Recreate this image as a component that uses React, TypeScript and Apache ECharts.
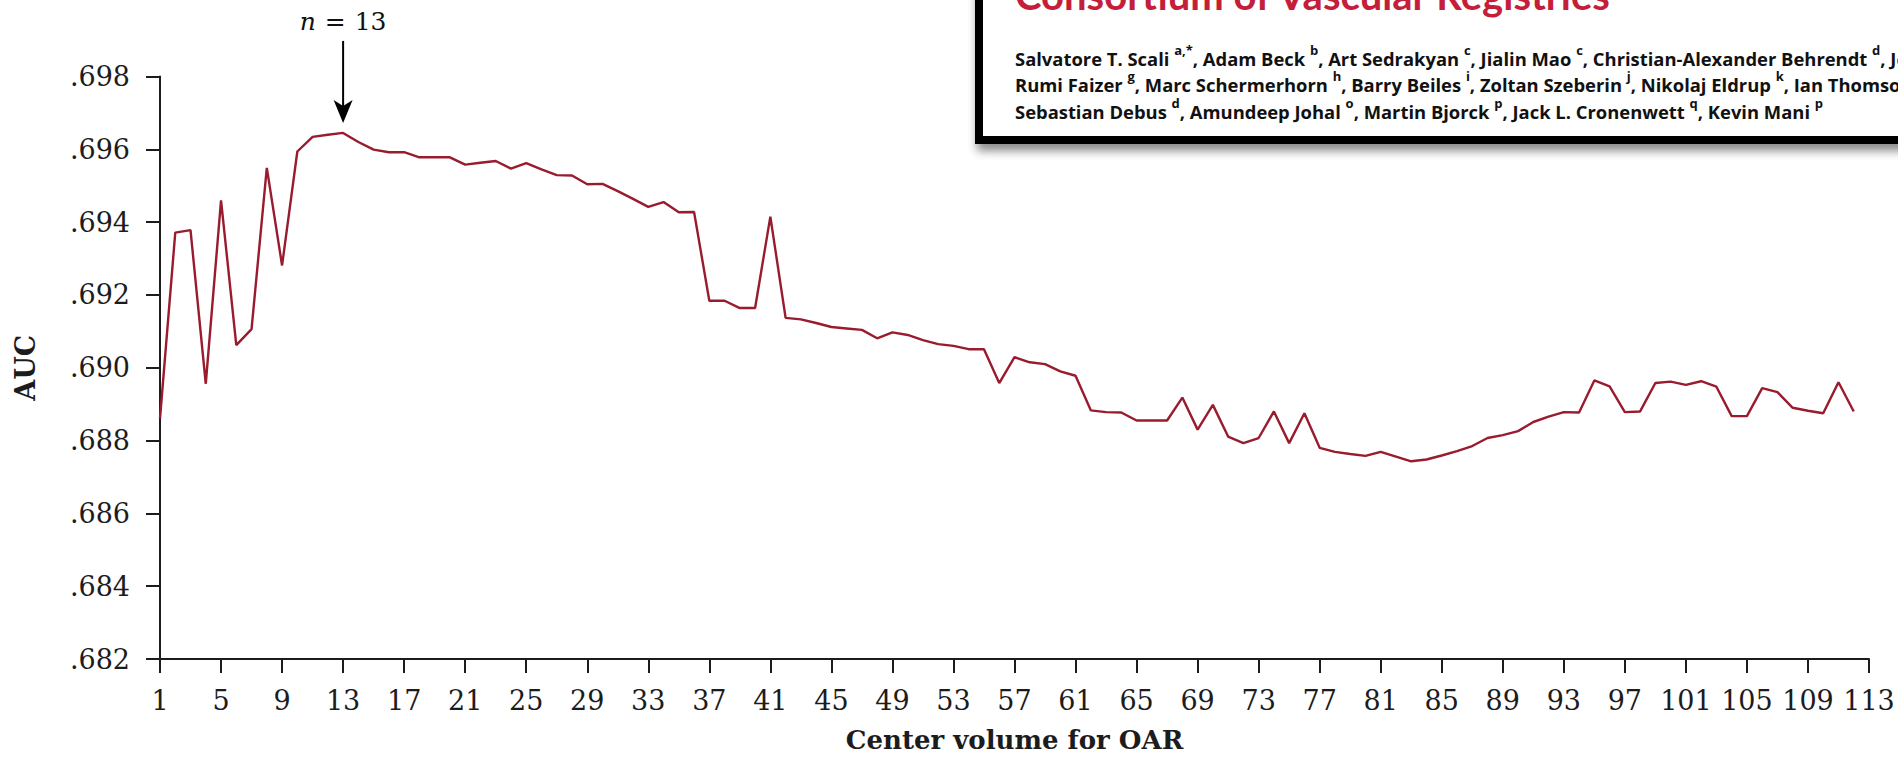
import React, { useEffect, useRef } from "react";
import * as echarts from "echarts";

// Center volume (x categories) and AUC (series values)
const X_CATEGORIES: string[] = Array.from({ length: 113 }, (_, i) => String(i + 1));

const AUC_VALUES: number[] = [
  0.6886, 0.69371, 0.69378, 0.68956, 0.6946, 0.69062, 0.69106, 0.69549, 0.69281, 0.69594,
  0.69634, 0.6964, 0.69645, 0.6962, 0.69599, 0.69592, 0.69592, 0.69578, 0.69578, 0.69578,
  0.69558, 0.69563, 0.69568, 0.69547, 0.69562, 0.69545, 0.69529, 0.69528, 0.69504, 0.69505,
  0.69485, 0.69464, 0.69442, 0.69455, 0.69427, 0.69428, 0.69184, 0.69184, 0.69164, 0.69164,
  0.69415, 0.69137, 0.69133, 0.69123, 0.69112, 0.69108, 0.69104, 0.69081, 0.69097, 0.6909,
  0.69076, 0.69065, 0.6906, 0.69051, 0.69051, 0.68958, 0.69029, 0.69015, 0.6901, 0.6899,
  0.68978, 0.68883, 0.68878, 0.68877, 0.68855, 0.68855, 0.68855, 0.68918, 0.6883, 0.68898,
  0.68811, 0.68793, 0.68807, 0.6888, 0.68793, 0.68875, 0.6878, 0.68769, 0.68763, 0.68758,
  0.68769, 0.68756, 0.68743, 0.68748, 0.68759, 0.68771, 0.68785, 0.68807, 0.68815, 0.68826,
  0.68851, 0.68866, 0.68878, 0.68877, 0.68965, 0.68949, 0.68878, 0.6888, 0.68958, 0.68962,
  0.68953, 0.68963, 0.68948, 0.68867, 0.68867, 0.68944, 0.68933, 0.6889, 0.68882, 0.68875,
  0.6896, 0.6888,
];

const Y_MIN = 0.682;
const Y_MAX = 0.698;
const Y_STEP = 0.002;

const PEAK_N = 13;
const X_NAME = "Center volume for OAR";
const Y_NAME = "AUC";

const INSET_TITLE = "Consortium of Vascular Registries";
const AUTHOR_LINES: string[] = [
  "Salvatore T. Scali {s|a,*}, Adam Beck {s|b}, Art Sedrakyan {s|c}, Jialin Mao {s|c}, Christian-Alexander Behrendt {s|d}, Jo",
  "Rumi Faizer {s|g}, Marc Schermerhorn {s|h}, Barry Beiles {s|i}, Zoltan Szeberin {s|j}, Nikolaj Eldrup {s|k}, Ian Thomson",
  "Sebastian Debus {s|d}, Amundeep Johal {s|o}, Martin Bjorck {s|p}, Jack L. Cronenwett {s|q}, Kevin Mani {s|p}",
];

const INK = "#1c1c1c";
const LINE_RED = "#981b2e";
const SERIF = "DejaVu Serif";
const SANS = "Open Sans";

export default function App() {
  const ref = useRef<HTMLDivElement>(null);

  useEffect(() => {
    if (!ref.current) return;
    const chart = echarts.init(ref.current, null, { renderer: "svg" });
    const axisLineStyle = { color: INK, width: 2 };

    chart.setOption({
      animation: false,
      backgroundColor: "#ffffff",
      grid: { left: 160, right: 29, top: 76.5, bottom: 97, containLabel: false },
      xAxis: {
        type: "category",
        data: X_CATEGORIES,
        boundaryGap: false,
        axisLine: { show: true, lineStyle: axisLineStyle },
        axisTick: { show: true, interval: 3, length: 14, lineStyle: axisLineStyle },
        axisLabel: {
          interval: 3,
          margin: 28,
          fontFamily: SERIF,
          fontSize: 27,
          color: INK,
        },
        splitLine: { show: false },
        name: X_NAME,
        nameLocation: "middle",
        nameGap: 68,
        nameTextStyle: { fontFamily: SERIF, fontWeight: "bold", fontSize: 26, color: INK },
      },
      yAxis: {
        type: "value",
        min: Y_MIN,
        max: Y_MAX,
        interval: Y_STEP,
        axisLine: { show: true, lineStyle: axisLineStyle },
        axisTick: { show: true, length: 14, lineStyle: axisLineStyle },
        axisLabel: {
          margin: 30,
          fontFamily: SERIF,
          fontSize: 27,
          color: INK,
          formatter: (v: number) => v.toFixed(3).replace(/^0/, ""),
        },
        splitLine: { show: false },
        name: Y_NAME,
        nameLocation: "middle",
        nameGap: 121,
        nameTextStyle: { fontFamily: SERIF, fontWeight: "bold", fontSize: 27, color: INK },
      },
      series: [
        {
          type: "line",
          data: AUC_VALUES,
          symbol: "none",
          showSymbol: false,
          lineStyle: { color: LINE_RED, width: 2.4 },
          z: 3,
        },
      ],
    });

    const [px, py] = chart.convertToPixel({ xAxisIndex: 0, yAxisIndex: 0 }, [
      PEAK_N - 1,
      AUC_VALUES[PEAK_N - 1],
    ]) as number[];
    const tip = py - 10;

    chart.setOption({
      graphic: [
        {
          type: "rect",
          z: 20,
          shape: { x: 979, y: -60, width: 1000, height: 200 },
          style: {
            fill: "#ffffff",
            stroke: "#000000",
            lineWidth: 8,
            shadowBlur: 10,
            shadowOffsetX: 2,
            shadowOffsetY: 7,
            shadowColor: "rgba(0,0,0,0.45)",
          },
        },
        {
          type: "text",
          z: 21,
          x: 1015,
          y: -5,
          style: {
            text: INSET_TITLE,
            fill: "#c41e3a",
            fontFamily: "Lato",
            fontWeight: "bold",
            fontSize: 40,
            align: "left",
            verticalAlign: "middle",
          },
        },
        ...AUTHOR_LINES.map((line, i) => ({
          type: "text",
          z: 21,
          x: 1015,
          y: 58 + i * 26.5,
          style: {
            text: line,
            fill: "#111111",
            fontFamily: SANS,
            fontWeight: "bold",
            fontSize: 18.4,
            lineHeight: 30,
            align: "left",
            verticalAlign: "middle",
            rich: {
              s: {
                fontFamily: SANS,
                fontWeight: "bold",
                fontSize: 13,
                lineHeight: 13,
                verticalAlign: "top",
                color: "#2a98d0",
              },
            },
          },
        })),
        {
          type: "line",
          z: 10,
          shape: { x1: px, y1: tip - 82, x2: px, y2: tip - 14 },
          style: { stroke: "#000000", lineWidth: 2 },
        },
        {
          type: "polygon",
          z: 10,
          shape: {
            points: [
              [px, tip],
              [px - 9.5, tip - 23],
              [px, tip - 17],
              [px + 9.5, tip - 23],
            ],
          },
          style: { fill: "#000000" },
        },
        {
          type: "text",
          z: 10,
          x: px,
          y: tip - 101,
          style: {
            text: "{i|n}{e|=}{r|13}",
            align: "center",
            verticalAlign: "middle",
            fill: "#111111",
            rich: {
              i: { fontFamily: SERIF, fontStyle: "italic", fontSize: 25, color: "#111111" },
              e: { fontFamily: SERIF, fontSize: 25, color: "#111111", padding: [0, 9, 0, 9] },
              r: { fontFamily: SERIF, fontSize: 25, color: "#111111" },
            },
          },
        },
      ],
    });

    return () => {
      chart.dispose();
    };
  }, []);

  return (
    <div
      ref={ref}
      style={{ position: "fixed", left: 0, top: 0, width: 1898, height: 758, background: "#fff" }}
    />
  );
}
